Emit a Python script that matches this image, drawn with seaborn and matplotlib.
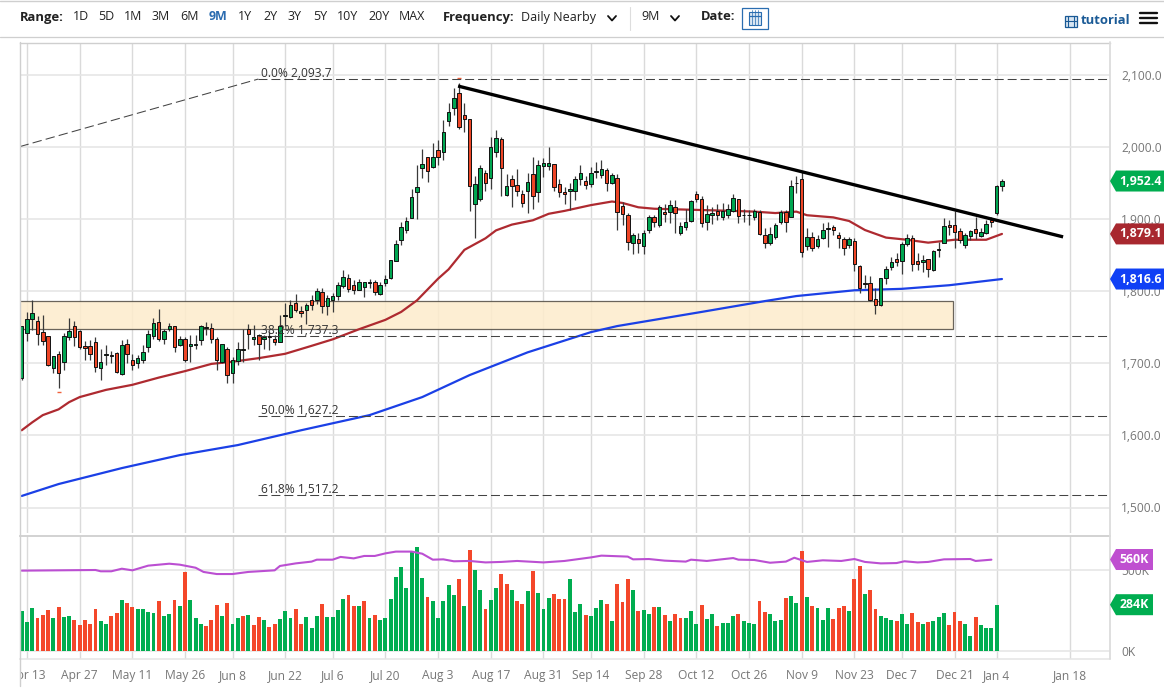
import numpy as np
import pandas as pd
import seaborn as sns
import matplotlib
matplotlib.use("Agg")
import matplotlib.pyplot as plt
from matplotlib.lines import Line2D
from matplotlib.patches import Polygon, Rectangle
from matplotlib.transforms import Affine2D, Bbox

OPEN = [1679,1742,1761,1758,1743,1738,1693,1713,1702,1736,
        1752,1745,1724,1724,1729,1693,1711,1712,1714,1685,
        1726,1705,1700,1704,1723,1738,1757,1734,1748,1751,
        1725,1734,1724,1725,1732,1750,1749,1733,1702,1720,
        1686,1703,1718,1747,1733,1739,1733,1737,1734,1729,
        1765,1764,1784,1772,1774,1788,1787,1798,1779,1787,
        1793,1807,1818,1808,1802,1805,1811,1812,1796,1811,
        1818,1842,1871,1884,1901,1937,1971,1986,1972,1996,
        1993,2036,2054,2075,2044,2038,1920,1927,1963,1956,
        1993,2010,1933,1955,1947,1935,1938,1962,1937,1973,
        1973,1976,1948,1937,1938,1939,1955,1953,1948,1965,
        1961,1967,1950,1956,1918,1905,1866,1872,1862,1884,
        1902,1891,1910,1910,1917,1881,1889,1897,1934,1927,
        1895,1905,1911,1902,1905,1911,1927,1906,1906,1903,
        1910,1877,1867,1875,1895,1910,1902,1950,1955,1862,
        1875,1862,1874,1886,1888,1878,1872,1864,1869,1835,
        1811,1811,1789,1780,1818,1833,1844,1841,1865,1874,
        1842,1840,1844,1829,1857,1867,1891,1892,1883,1864,
        1876,1886,1876,1881,1898,1908,1945]
HIGH = [1752,1771,1788,1765,1767,1738,1710,1717,1742,1763,
        1759,1746,1731,1732,1736,1720,1725,1717,1716,1732,
        1733,1713,1711,1725,1746,1762,1775,1748,1756,1751,
        1737,1736,1739,1739,1753,1757,1755,1736,1726,1723,
        1708,1729,1748,1754,1753,1741,1739,1745,1739,1767,
        1784,1787,1796,1779,1783,1794,1804,1804,1794,1797,
        1813,1829,1824,1815,1817,1813,1817,1815,1813,1822,
        1843,1871,1896,1903,1941,1974,1997,1986,2005,2009,
        2037,2060,2081,2088,2060,2038,1959,1975,1968,2014,
        2023,2014,1962,1961,1969,1940,1963,1985,1982,1984,
        1999,1976,1955,1944,1949,1959,1975,1959,1972,1979,
        1982,1970,1964,1962,1924,1908,1880,1880,1885,1905,
        1905,1919,1920,1926,1926,1896,1914,1926,1938,1931,
        1919,1917,1921,1922,1921,1935,1928,1914,1912,1913,
        1912,1887,1889,1894,1912,1912,1954,1960,1965,1887,
        1882,1878,1894,1896,1891,1882,1875,1875,1874,1836,
        1822,1821,1804,1818,1835,1847,1852,1868,1879,1878,
        1852,1850,1845,1857,1868,1901,1898,1911,1887,1880,
        1885,1903,1887,1898,1902,1947,1955]
LOW = [1677,1731,1746,1725,1725,1696,1686,1665,1690,1732,
       1724,1720,1704,1704,1688,1676,1697,1700,1686,1683,
       1700,1691,1693,1700,1716,1734,1731,1727,1745,1716,
       1724,1701,1702,1719,1725,1739,1728,1690,1700,1672,
       1673,1697,1702,1720,1725,1705,1719,1718,1725,1729,
       1751,1763,1771,1764,1754,1774,1782,1769,1767,1771,
       1787,1804,1799,1796,1801,1791,1804,1794,1794,1807,
       1817,1841,1864,1881,1901,1900,1956,1951,1971,1975,
       1982,2028,2044,2024,2021,1911,1874,1925,1939,1942,
       1985,1931,1931,1917,1931,1917,1908,1914,1924,1958,
       1968,1939,1930,1921,1912,1926,1947,1942,1944,1956,
       1956,1938,1948,1885,1891,1857,1851,1852,1851,1881,
       1889,1889,1896,1894,1880,1877,1885,1896,1924,1889,
       1885,1893,1898,1899,1901,1910,1894,1895,1892,1898,
       1877,1859,1864,1872,1893,1882,1902,1936,1847,1857,
       1856,1860,1872,1861,1877,1860,1850,1859,1828,1797,
       1804,1786,1768,1779,1810,1829,1834,1824,1862,1828,
       1829,1827,1820,1828,1847,1866,1877,1859,1866,1860,
       1871,1872,1875,1879,1889,1905,1938]
CLOSE = [1752,1761,1769,1740,1731,1698,1710,1687,1738,1745,
         1736,1723,1721,1713,1694,1701,1713,1710,1688,1725,
         1713,1697,1707,1716,1740,1755,1733,1745,1751,1722,
         1734,1705,1726,1727,1751,1749,1733,1704,1726,1683,
         1704,1720,1719,1740,1736,1727,1736,1736,1730,1752,
         1767,1781,1774,1770,1780,1780,1800,1779,1790,1793,
         1809,1820,1803,1801,1813,1813,1813,1799,1809,1817,
         1843,1865,1889,1897,1930,1944,1976,1966,1985,1985,
         2020,2048,2068,2027,2039,1946,1948,1970,1949,1999,
         2012,1970,1945,1946,1939,1922,1951,1932,1974,1978,
         1978,1944,1937,1934,1942,1955,1963,1947,1963,1966,
         1969,1949,1961,1910,1907,1868,1877,1866,1881,1903,
         1895,1916,1907,1919,1908,1890,1895,1925,1928,1894,
         1907,1908,1906,1911,1914,1929,1904,1905,1905,1911,
         1879,1867,1879,1892,1910,1895,1946,1949,1854,1875,
         1860,1872,1885,1887,1884,1874,1860,1872,1837,1804,
         1810,1787,1780,1818,1830,1840,1840,1865,1874,1838,
         1837,1843,1831,1855,1858,1890,1888,1882,1870,1878,
         1883,1880,1882,1893,1895,1946,1952.4]

VOLUME = [246,180,262,200,219,250,202,271,209,215,
          192,159,188,167,256,184,167,213,236,312,
          293,269,256,258,242,231,308,217,227,316,
          277,486,314,200,165,153,188,281,215,295,
          165,200,215,221,159,209,190,149,165,198,
          244,205,256,165,211,138,215,289,207,209,
          252,320,343,277,275,308,202,221,190,205,
          320,455,517,388,614,643,448,333,310,200,
          308,407,345,444,277,624,500,374,258,316,
          388,475,411,376,306,289,370,496,357,258,
          324,351,318,320,442,242,289,219,213,264,
          314,289,186,413,300,442,374,246,252,227,
          269,271,219,186,227,202,202,248,165,283,
          194,225,153,169,171,213,229,182,171,163,
          308,240,229,182,192,328,337,295,618,333,
          275,267,190,264,194,267,275,244,446,523,
          351,374,256,215,200,190,184,227,163,233,
          178,165,176,182,209,231,159,242,184,167,
          93,207,157,143,140,285]
VOLUME_DIR = ("GGGRRRGRGG" "RRRRRGGRRG" "RRGGGGRGGR" "GRGGGRRRGR" "GGRGRRGRRG"
              "GGRRGGGRGG" "GGRRGRGRGG" "GGGGGGGRGG" "GGGRGRGGRG" "GRRGRRGRGG"
              "GRRRGGGRGG" "GRGRRRGRGG" "RGRGRRGGGR" "GGRGGGRGGG" "RRGGGRGGRG"
              "RGGGRRRGRR" "GRRGGGRGGR" "RGRGGGRRRG" "GRGGGG")

MA50_X = [0,2,4,7,9,11,16,21,26,31,36,40,45,50,55,59,64,69,72,75,79,81,84,88,90,93,97,100,103,
          108,112,114,117,120,125,130,135,139,143,147,149,154,157,160,164,168,172,177,183,186]
MA50_Y = [1607,1618,1628,1636,1646,1653,1663,1670,1680,1689,1699,1702,1707,1713,1724,1733,1747,
          1760,1771,1787,1817,1830,1857,1873,1884,1892,1898,1907,1911,1919,1924,1922,1916,1914,
          1913,1912,1911,1910,1908,1910,1905,1902,1897,1884.5,1874,1871,1867,1871,1871,1879.1]
MA200_X = [0,7,19,30,41,53,66,76,85,96,108,113,129,141,147,158,167,176,186]
MA200_Y = [1516,1532.5,1554.6,1572.6,1586.5,1607,1628,1653,1683.5,1715,1743,1751.4,1771,1786,
           1793,1801,1803,1808,1816.6]
VOLMA_X = [0,14,15,17,19,21,24,28,30,33,34.5,37,40,43,48,49,52,55,56,59,60.5,63,65,67,69,71,74,
           76,78,80,82,85,88,91,94,99,103,108,110,115,116,119,122,126,127,130,135,136,139,142,
           145,146.6,149,152,155.5,158,160,163,166,167.5,170,172,175,180,181,184]
VOLMA_Y = [496,500,492,492,508,498,527,539,533,514,488,475,475,488,498,525,541,552,564,564,581,
           572,587,587,603,614,614,601,564,566,554,556,547,550,556,547,556,578,589,583,566,568,
           558,552,564,556,574,564,562,545,552,576,550,560,556,568,550,541,543,554,547,550,566,
           568,556,564]

PRICE_TICKS = [2100, 2000, 1900, 1800, 1700, 1600, 1500]
PRICE_LABELS = ["2,100.0", "2,000.0", "1,900.0", "1,800.0", "1,700.0", "1,600.0", "1,500.0"]
VOL_TICKS = [0, 500]
VOL_LABELS = ["0K", "500K"]
DATE_POS = [1,11,21,31,40,50,59,69,79,89,99,108,118,128,138,148,158,167,177,185,199]
DATE_LABELS = ["Apr 13","Apr 27","May 11","May 26","Jun 8","Jun 22","Jul 6","Jul 20","Aug 3",
               "Aug 17","Aug 31","Sep 14","Sep 28","Oct 12","Oct 26","Nov 9","Nov 23","Dec 7",
               "Dec 21","Jan 4","Jan 18"]
FIB_LEVELS = [2093.7, 1737.3, 1627.2, 1517.2]
FIB_LABELS = ["0.0% 2,093.7", "38.2% 1,737.3", "50.0% 1,627.2", "61.8% 1,517.2"]
FIB_START = 44.9
FIB_LEAD = [-0.4, 2000]
TREND_X = [82.8, 197.6]
TREND_Y = [2084, 1875]
ZONE = [-0.5, 176.8, 1748, 1786.3]
OUTLIER_X = [83, 7]
OUTLIER_Y = [2094.5, 1660.6]

GREEN, RED = "#00a651", "#ee4526"
VGREEN, VRED = "#00ad50", "#f4472a"
GRID_H, GRID_V, TXT = "#e6e6e6", "#dadada", "#777777"

sns.set_style("white")
plt.rcParams["font.family"] = ["Open Sans", "DejaVu Sans"]

W, H = 1164, 689
fig = plt.figure(figsize=(W / 100, H / 100), dpi=100, facecolor="white")
PX = Affine2D().scale(1 / W, -1 / H).translate(0, 1) + fig.transFigure


def pane(top, bottom):
    return fig.add_axes([19.5 / W, 1 - bottom / H, (1110 - 19.5) / W, (bottom - top) / H])


ax = pane(43, 533)
av = pane(536, 659)
XLIM = (-0.417, 206.5)

# ----- price pane
for a, ticks in ((ax, PRICE_TICKS), (av, VOL_TICKS)):
    a.set_axisbelow(True)
    a.set_xticks(DATE_POS)
    a.set_yticks(ticks)
    a.xaxis.grid(True, color=GRID_V, lw=1.0)
    a.yaxis.grid(True, color=GRID_H, lw=1.2)

ax.add_patch(Rectangle((ZONE[0], ZONE[2]), ZONE[1] - ZONE[0], ZONE[3] - ZONE[2],
                       facecolor="#fdeccd", edgecolor="#555047", lw=0.9, alpha=0.88, zorder=1.5))

sns.lineplot(x=MA50_X, y=MA50_Y, ax=ax, color="#ae2a30", lw=1.6, zorder=2.4, estimator=None)
sns.lineplot(x=MA200_X, y=MA200_Y, ax=ax, color="#1b40e6", lw=1.6, zorder=2.4, estimator=None)

idx = np.arange(len(OPEN))
o, h, l, c = map(np.array, (OPEN, HIGH, LOW, CLOSE))
ax.vlines(idx, l, h, color="#3a3a3a", lw=0.9, zorder=2.7)
body_col = np.where(c >= o, GREEN, RED)
ax.bar(idx, np.maximum(np.abs(c - o), 0.6), bottom=np.minimum(o, c), width=0.66,
       color=body_col, edgecolor="#111111", linewidth=0.7, zorder=3)
ax.plot(OUTLIER_X, OUTLIER_Y, ls="none", marker="_", ms=3.5, mew=1, color="#f0603a", zorder=3)

ax.plot([FIB_LEAD[0], FIB_START], [FIB_LEAD[1], FIB_LEVELS[0]], color="#444444", lw=0.75,
        ls=(0, (9, 4)), zorder=3.2)
for lev, lab in zip(FIB_LEVELS, FIB_LABELS):
    ax.plot([FIB_START, XLIM[1]], [lev, lev], color="#444444", lw=0.75, ls=(0, (8.6, 3.8)), zorder=3.2)
    ax.text(FIB_START + 0.6, lev - 1.5, lab, fontsize=8.64, color="#333333", va="bottom", ha="left",
            zorder=3.3)

ax.plot(TREND_X, TREND_Y, color="black", lw=2.4, zorder=4, solid_capstyle="butt")

ax.set_xlim(*XLIM)
ax.set_ylim(2100 - (533 - 74.5) * 600 / 433, 2100 - (43 - 74.5) * 600 / 433)
ax.set_yticklabels(PRICE_LABELS)
ax.yaxis.tick_right()
ax.tick_params(axis="y", length=0, pad=8, labelsize=8.64, labelcolor=TXT)
ax.tick_params(axis="x", length=0, labelbottom=False)
ax.set_xlabel("")
ax.set_ylabel("")

# ----- volume pane
vol_df = pd.DataFrame({"x": np.arange(len(VOLUME)), "v": VOLUME, "d": list(VOLUME_DIR)})
sns.barplot(data=vol_df, x="x", y="v", hue="d", palette={"G": VGREEN, "R": VRED}, dodge=False,
            native_scale=True, width=0.74, ax=av, legend=False, saturation=1, zorder=2,
            edgecolor="none")
sns.lineplot(x=VOLMA_X, y=VOLMA_Y, ax=av, color="#bb4fd2", lw=1.5, zorder=3, estimator=None)
av.set_xlim(*XLIM)
av.set_ylim(-(659 - 650.7) * 500 / 80.7, (650.7 - 536) * 500 / 80.7)
av.set_xticks(DATE_POS)
av.set_xticklabels(DATE_LABELS)
av.set_yticks(VOL_TICKS)
av.set_yticklabels(VOL_LABELS)
av.yaxis.tick_right()
av.set_xlabel("")
av.set_ylabel("")
av.tick_params(axis="y", length=0, pad=8, labelsize=8.64, labelcolor=TXT)
av.tick_params(axis="x", length=4.3, width=1, color=GRID_V, pad=3.2, labelsize=8.64, labelcolor=TXT)
clip = Bbox([[19.5, 0], [W, H]])
for t in av.get_xticklabels():
    t.set_clip_box(clip)
    t.set_clip_on(True)

for a in (ax, av):
    for s in a.spines.values():
        s.set_visible(False)
ax.spines["top"].set_visible(True)
ax.spines["top"].set_color("#cfcfcf")
ax.spines["top"].set_linewidth(1.0)
av.spines["top"].set_visible(True)
av.spines["top"].set_color("#cfcfcf")
av.spines["top"].set_linewidth(1.3)
av.spines["bottom"].set_visible(True)
av.spines["bottom"].set_color(GRID_H)
av.spines["bottom"].set_linewidth(1.2)


# ----- frame lines and header, in pixel coordinates of the figure
def line(xs, ys, color, lw=1.0, **kw):
    fig.add_artist(Line2D(xs, ys, color=color, lw=lw, transform=PX, **kw))


def label(x, y, s, size=9.0, color="#222222", weight="normal", ha="left"):
    fig.text(x, y, s, transform=PX, fontsize=size, color=color, fontweight=weight, ha=ha, va="center")


line([19.5, 19.5], [42, 686], "#cfcfcf", 1.0)
line([1110, 1110], [42, 659], "#dcdcdc", 1.3)
line([0, W], [37, 37], "#cfcfcf", 0.9)
line([0, W], [0.5, 0.5], "#cfcfcf", 1.0)
line([630, 630], [7, 30], "#dddddd", 0.8)

label(20, 17, "Range:", weight="bold", size=9.4)
RANGE_ITEMS = ["1D", "5D", "1M", "3M", "6M", "9M", "1Y", "2Y", "3Y", "5Y", "10Y", "20Y", "MAX"]
RANGE_X = [73, 98, 124, 152, 180, 209, 238, 263, 288, 313, 337, 368, 399]
for s, x in zip(RANGE_ITEMS, RANGE_X):
    if s == "9M":
        label(x, 17, s, color="#2b6cb0", weight="bold")
    else:
        label(x, 17, s)
label(443, 17, "Frequency:", weight="bold", size=9.4)
label(521, 17, "Daily Nearby")
label(641, 17, "9M")
label(701, 17, "Date:", weight="bold", size=9.4)
for cx in (612, 675):
    line([cx - 4, cx, cx + 4], [16, 20.5, 16], "#111111", 1.3)

fig.add_artist(Rectangle((741.5, 8), 26.5, 21, transform=PX, fill=False, edgecolor="#2a6db0", lw=0.9))
fig.add_artist(Rectangle((749, 12), 12, 13, transform=PX, facecolor="#d9e6f2", edgecolor="#2a6db0", lw=0.8))
line([749, 761], [15.5, 15.5], "#2a6db0", 0.9)
for x in (752, 755, 758):
    line([x, x], [10, 25], "#2a6db0", 0.5)

fig.add_artist(Rectangle((1064.5, 15.5), 12.5, 11, transform=PX, facecolor="#d9e6f2", edgecolor="#1a5a96", lw=0.9))
for x in (1068, 1073.5):
    line([x, x], [15.5, 26.5], "#1a5a96", 0.8)
line([1064.5, 1077], [21, 21], "#1a5a96", 0.8)
label(1081, 21, "tutorial", color="#1a5a96", weight="bold", size=9.4)
for y in (12.5, 17.5, 22.5):
    line([1139.5, 1157], [y, y], "#111111", 1.7)


# ----- value tags on the right axes
def tag(axis, value, text, color, right, cx):
    y = H - axis.transData.transform((0, value))[1]
    pts = [(1110, y), (1116, y - 10.5), (right, y - 10.5), (right, y + 10.5), (1116, y + 10.5)]
    fig.add_artist(Polygon(pts, closed=True, transform=PX, facecolor=color, edgecolor="none", zorder=5))
    fig.text(cx, y, text, transform=PX, color="white", fontsize=8.9, fontweight="bold",
             ha="center", va="center", zorder=6)


tag(ax, CLOSE[-1], "1,952.4", "#00ad50", 1164, 1140.5)
tag(ax, MA50_Y[-1], "1,879.1", "#a8282f", 1164, 1140.5)
tag(ax, MA200_Y[-1], "1,816.6", "#1040f5", 1164, 1140.5)
tag(av, 565, "560K", "#bf4fd0", 1153, 1134.5)
tag(av, VOLUME[-1], "284K", "#00ad50", 1153, 1134.5)

fig.savefig("out.png", dpi=100, facecolor="white")
